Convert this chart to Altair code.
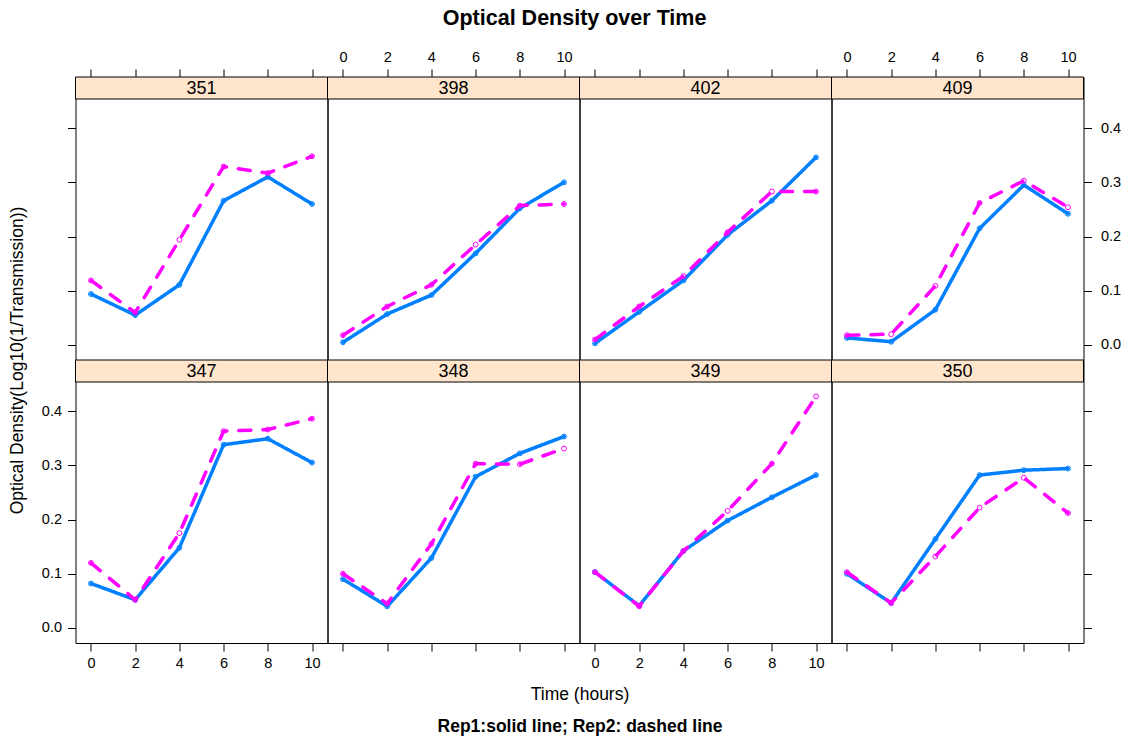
import altair as alt
import pandas as pd

# ---------------- data ----------------
hours = [0, 2, 4, 6, 8, 10]
panel_order = ["351", "398", "402", "409", "347", "348", "349", "350"]
reps = ["Rep1", "Rep2"]

od_351_rep1 = [0.094, 0.055, 0.111, 0.266, 0.310, 0.260]
od_351_rep2 = [0.119, 0.060, 0.194, 0.329, 0.317, 0.348]
od_398_rep1 = [0.005, 0.057, 0.092, 0.169, 0.252, 0.300]
od_398_rep2 = [0.018, 0.071, 0.111, 0.185, 0.257, 0.260]
od_402_rep1 = [0.003, 0.061, 0.119, 0.203, 0.266, 0.346]
od_402_rep2 = [0.010, 0.071, 0.127, 0.208, 0.283, 0.283]
od_409_rep1 = [0.013, 0.006, 0.065, 0.215, 0.295, 0.242]
od_409_rep2 = [0.018, 0.020, 0.109, 0.262, 0.303, 0.254]
od_347_rep1 = [0.082, 0.052, 0.148, 0.338, 0.349, 0.305]
od_347_rep2 = [0.120, 0.052, 0.175, 0.363, 0.366, 0.386]
od_348_rep1 = [0.090, 0.040, 0.129, 0.279, 0.322, 0.353]
od_348_rep2 = [0.100, 0.045, 0.155, 0.303, 0.302, 0.331]
od_349_rep1 = [0.103, 0.041, 0.142, 0.198, 0.241, 0.282]
od_349_rep2 = [0.103, 0.040, 0.142, 0.216, 0.303, 0.427]
od_350_rep1 = [0.100, 0.046, 0.164, 0.282, 0.291, 0.294]
od_350_rep2 = [0.103, 0.046, 0.132, 0.222, 0.277, 0.212]

series = {
    ("351", "Rep1"): od_351_rep1, ("351", "Rep2"): od_351_rep2,
    ("398", "Rep1"): od_398_rep1, ("398", "Rep2"): od_398_rep2,
    ("402", "Rep1"): od_402_rep1, ("402", "Rep2"): od_402_rep2,
    ("409", "Rep1"): od_409_rep1, ("409", "Rep2"): od_409_rep2,
    ("347", "Rep1"): od_347_rep1, ("347", "Rep2"): od_347_rep2,
    ("348", "Rep1"): od_348_rep1, ("348", "Rep2"): od_348_rep2,
    ("349", "Rep1"): od_349_rep1, ("349", "Rep2"): od_349_rep2,
    ("350", "Rep1"): od_350_rep1, ("350", "Rep2"): od_350_rep2,
}

rows = []
for (pid, rep), vals in series.items():
    for h, v in zip(hours, vals):
        rows.append({"panel": pid, "rep": rep, "hour": h, "od": v})
df = pd.DataFrame(rows)
strip_df = pd.DataFrame({"panel": panel_order})

# ---------------- style ----------------
FONT = "Liberation Sans"
BLUE = "#0080ff"
PINK = "#ff00ff"
STRIP_FILL = "#ffe5cc"
W = 252
H = 283
STRIP = 22
XDOM = [-0.7, 10.7]
YDOM = [-0.0277, 0.4942]
y_ticks = [0.0, 0.1, 0.2, 0.3, 0.4]
LBL = 14.5
TTL = 17.5

color_scale = alt.Scale(domain=reps, range=[BLUE, PINK])
dash_scale = alt.Scale(domain=reps, range=[[1, 0], [12, 12]])


def make_panel(pid, r, c):
    xkw = dict(
        orient="top" if r == 0 else "bottom",
        values=hours,
        labels=(c % 2 == 1) if r == 0 else (c % 2 == 0),
        domain=False, grid=False, ticks=True, tickSize=8, tickColor="black",
        labelFontSize=LBL, labelColor="black", labelFont=FONT, labelPadding=5,
        title=None,
    )
    if pid == "348":
        xkw.update(title="Time (hours)", titleX=W, titleY=51, titleAlign="center",
                   titleBaseline="middle", titleFontSize=TTL, titleFontWeight="normal",
                   titleFont=FONT, titleColor="black")
    if pid == "349":
        xkw.update(title="Rep1:solid line; Rep2: dashed line", titleX=0, titleY=83,
                   titleAlign="center", titleBaseline="middle", titleFontSize=TTL,
                   titleFontWeight="bold", titleFont=FONT, titleColor="black")
    xaxis = alt.Axis(**xkw)

    if c == 0 or c == 3:
        ykw = dict(
            orient="left" if c == 0 else "right",
            values=y_ticks, format=".1f",
            labels=(r == 1) if c == 0 else (r == 0),
            domain=False, grid=False, ticks=True, tickSize=8, tickColor="black",
            labelFontSize=LBL, labelColor="black", labelFont=FONT,
            labelPadding=6 if c == 0 else 9,
            title=None,
        )
        if pid == "347":
            ykw.update(title="Optical Density(Log10(1/Transmission))", titleX=-58,
                       titleY=0, titleAngle=270, titleAlign="center",
                       titleBaseline="middle", titleFontSize=TTL,
                       titleFontWeight="normal", titleFont=FONT, titleColor="black")
        yaxis = alt.Axis(**ykw)
    else:
        yaxis = None

    xenc = alt.X("hour:Q", scale=alt.Scale(domain=XDOM, nice=False, zero=False), axis=xaxis)
    yenc = alt.Y("od:Q", scale=alt.Scale(domain=YDOM, nice=False, zero=False), axis=yaxis)

    strip_rect = alt.Chart(strip_df).transform_filter(alt.datum.panel == pid).mark_rect(
        fill=STRIP_FILL, stroke="black", strokeWidth=1
    ).encode(x=alt.value(0), x2=alt.value(W), y=alt.value(0), y2=alt.value(STRIP))
    strip_text = alt.Chart(strip_df).transform_filter(alt.datum.panel == pid).mark_text(
        font=FONT, fontSize=18, color="black", baseline="middle", align="center"
    ).encode(x=alt.value(W / 2), y=alt.value(STRIP / 2 + 1), text="panel:N")

    layers = [strip_rect, strip_text]
    for rep in reps:
        sub = alt.Chart(df).transform_filter(
            (alt.datum.panel == pid) & (alt.datum.rep == rep)
        )
        line = sub.mark_line(strokeWidth=3.5, strokeCap="round", strokeJoin="round").encode(
            x=xenc, y=yenc,
            color=alt.Color("rep:N", scale=color_scale, legend=None),
            strokeDash=alt.StrokeDash("rep:N", scale=dash_scale, legend=None),
        )
        pts = sub.mark_point(shape="circle", filled=False, size=24, strokeWidth=1, opacity=1).encode(
            x=xenc, y=yenc,
            color=alt.Color("rep:N", scale=color_scale, legend=None),
        )
        layers += [line, pts]
    return alt.layer(*layers).properties(width=W, height=H)


panels = []
for i, pid in enumerate(panel_order):
    r, c = divmod(i, 4)
    panels.append(make_panel(pid, r, c))

chart = alt.concat(*panels, columns=4, spacing=0, bounds="flush").properties(
    title=alt.TitleParams(
        "Optical Density over Time", anchor="middle", fontSize=21.5, fontWeight="bold",
        font=FONT, color="black", offset=19, dx=10,
    ),
    padding={"left": 7.5, "top": 8, "right": 3, "bottom": 5},
).configure(font=FONT, background="white").configure_view(stroke="black", strokeWidth=1)

chart.save("out.html", embed_options={"renderer": "svg", "actions": False})
